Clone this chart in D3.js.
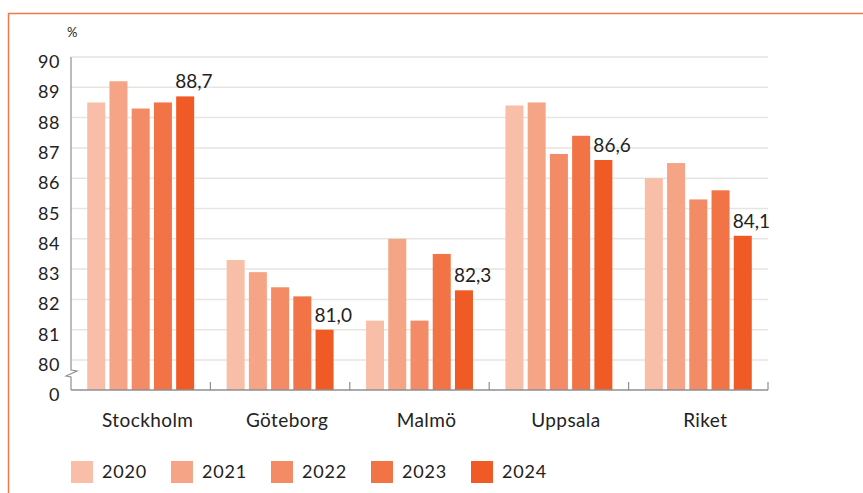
<!DOCTYPE html>
<html>
<head>
<meta charset="utf-8">
<script src="https://cdn.jsdelivr.net/npm/d3@7"></script>
<style>
  body { margin: 0; background: #fff; }
  svg { display: block; font-family: 'Lato', 'Open Sans', sans-serif; }
</style>
</head>
<body>
<svg id="chart" width="863" height="493"></svg>
<script>
const cities = ['Stockholm', 'Göteborg', 'Malmö', 'Uppsala', 'Riket'];
const years = ['2020', '2021', '2022', '2023', '2024'];
const v2020 = [88.5, 83.3, 81.3, 88.4, 86.0];
const v2021 = [89.2, 82.9, 84.0, 88.5, 86.5];
const v2022 = [88.3, 82.4, 81.3, 86.8, 85.3];
const v2023 = [88.5, 82.1, 83.5, 87.4, 85.6];
const v2024 = [88.7, 81.0, 82.3, 86.6, 84.1];
const yTicks = [0, 80, 81, 82, 83, 84, 85, 86, 87, 88, 89, 90];

const series = [v2020, v2021, v2022, v2023, v2024];
const colors = ['#f8bea7', '#f5a586', '#f38c66', '#f27346', '#f05a24'];

const svg = d3.select('#chart');

// frame (left + top orange rule)
svg.append('path')
  .attr('d', 'M8.5,493 V13.5 H863')
  .attr('fill', 'none')
  .attr('stroke', '#ee7a4c')
  .attr('stroke-width', 1.5);

const left = 71, right = 768;

// broken axis: 0 sits one step under 80
const y = d3.scaleLinear().domain([0, 80, 90]).range([390, 360, 57]);
const x0 = d3.scaleBand().domain(cities).range([left, right]).padding(0);
const x1 = d3.scaleBand().domain(years).range([0, x0.bandwidth()])
  .paddingInner(0.19).paddingOuter(0.73);
const color = d3.scaleOrdinal().domain(years).range(colors);

// gridlines
svg.append('g')
  .selectAll('line')
  .data(yTicks.filter(t => t > 0))
  .enter()
  .append('line')
  .attr('x1', left)
  .attr('x2', right)
  .attr('y1', d => y(d))
  .attr('y2', d => y(d))
  .attr('stroke', '#e7e5df')
  .attr('stroke-width', 1.5);

// y tick labels
svg.append('g')
  .selectAll('text')
  .data(yTicks)
  .enter()
  .append('text')
  .attr('x', 60)
  .attr('y', d => y(d) + 11)
  .attr('text-anchor', 'end')
  .attr('font-size', '18px')
  .attr('letter-spacing', '0.5px')
  .attr('fill', '#222')
  .text(d => d);

svg.append('text')
  .attr('x', 67)
  .attr('y', 37)
  .attr('font-size', '13px')
  .attr('fill', '#222')
  .text('%');

// bars
const rows = [];
cities.forEach((c, i) => {
  years.forEach((yr, j) => {
    rows.push({ city: c, year: yr, value: series[j][i] });
  });
});

svg.append('g')
  .selectAll('rect')
  .data(rows)
  .enter()
  .append('rect')
  .attr('x', d => x0(d.city) + x1(d.year))
  .attr('width', x1.bandwidth())
  .attr('y', d => y(d.value))
  .attr('height', d => y(0) - y(d.value))
  .attr('fill', d => color(d.year));

// value labels on last year
svg.append('g')
  .selectAll('text')
  .data(rows.filter(d => d.year === '2024'))
  .enter()
  .append('text')
  .attr('x', d => x0(d.city) + x1(d.year) - 1)
  .attr('y', d => y(d.value) - 8)
  .attr('font-size', '19px')
  .attr('fill', '#222')
  .text(d => d3.format('.1f')(d.value).replace('.', ','));

// axes
const axisColor = '#8c8f93';
svg.append('line')
  .attr('x1', left).attr('x2', right)
  .attr('y1', y(0)).attr('y2', y(0))
  .attr('stroke', axisColor).attr('stroke-width', 1.5);

svg.append('path')
  .attr('d', `M${left},${y(90)} V370 L77,371 L66,376 L${left},377 V${y(0)}`)
  .attr('fill', 'none')
  .attr('stroke', axisColor)
  .attr('stroke-width', 1.2);

svg.append('g')
  .selectAll('line')
  .data(cities.slice(1).map(c => x0(c)).concat([right]))
  .enter()
  .append('line')
  .attr('x1', d => d).attr('x2', d => d)
  .attr('y1', y(0) - 8).attr('y2', y(0))
  .attr('stroke', axisColor).attr('stroke-width', 1.2);

// category labels
svg.append('g')
  .selectAll('text')
  .data(cities)
  .enter()
  .append('text')
  .attr('x', d => x0(d) + x0.bandwidth() / 2 + 7)
  .attr('y', 427)
  .attr('text-anchor', 'middle')
  .attr('font-size', '19px')
  .attr('letter-spacing', '0.4px')
  .attr('fill', '#222')
  .text(d => d);

// legend
const legend = svg.append('g')
  .selectAll('g')
  .data(years)
  .enter()
  .append('g')
  .attr('transform', (d, i) => `translate(${71 + i * 100},461)`);

legend.append('rect')
  .attr('width', 22)
  .attr('height', 22)
  .attr('fill', d => color(d));

legend.append('text')
  .attr('x', 31)
  .attr('y', 17)
  .attr('font-size', '18px')
  .attr('letter-spacing', '0.8px')
  .attr('fill', '#222')
  .text(d => d);
</script>
</body>
</html>
